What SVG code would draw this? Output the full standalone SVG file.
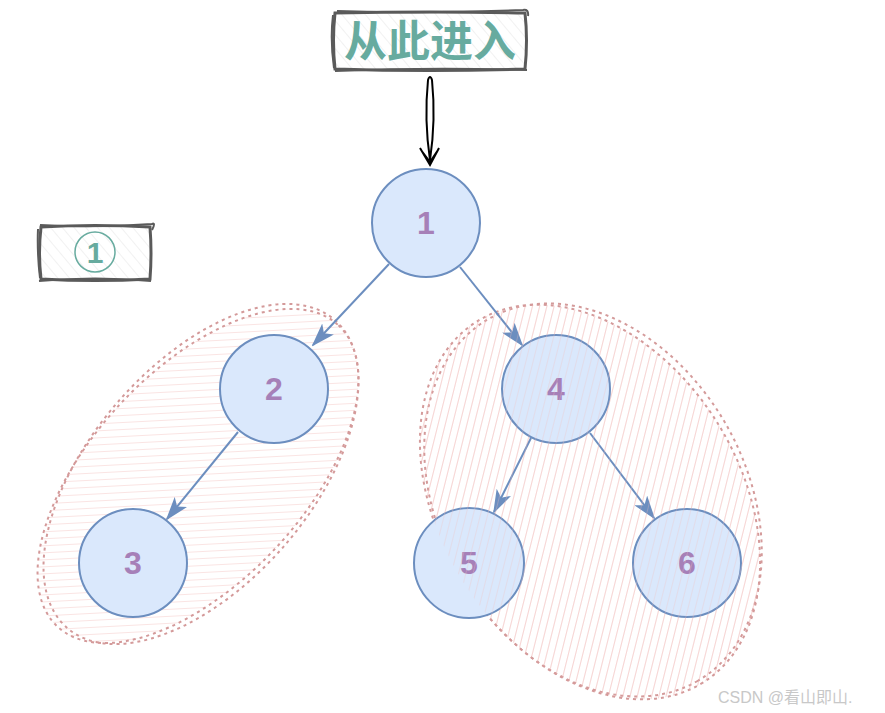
<svg xmlns="http://www.w3.org/2000/svg" width="885" height="713" viewBox="0 0 885 713">
<style>
.node circle{fill:#dae8fc;stroke:#6c8ebf;stroke-width:2}
.node text{font-family:"Liberation Sans",Arial,sans-serif;font-weight:bold;font-size:32px;fill:#a680b8;text-anchor:middle}
.edge{stroke:#6c8ebf;stroke-width:2;fill:none}
.dash{fill:none;stroke:#d49a9a;stroke-width:2;stroke-dasharray:3 4}
.box{fill:url(#greyHatch);stroke:#5a5a5a;stroke-width:3}
.lbl{font-family:"Liberation Sans","Noto Sans CJK SC",sans-serif;font-weight:bold;fill:#67ab9f;text-anchor:middle}
</style>
<defs>
<marker id="ah" viewBox="0 0 24 16" refX="22" refY="8" markerWidth="24" markerHeight="16" markerUnits="userSpaceOnUse" orient="auto">
<path d="M0,0 L24,8 L0,16 L6,8 Z" fill="#6c8ebf"/>
</marker>
<pattern id="greyHatch" width="9" height="9" patternUnits="userSpaceOnUse" patternTransform="rotate(-40)">
<rect width="9" height="9" fill="#fff"/>
<line x1="0" y1="0" x2="0" y2="9" stroke="#e4e4e4" stroke-width="1"/>
</pattern>
<pattern id="hatchL" width="7" height="7" patternUnits="userSpaceOnUse" patternTransform="rotate(44)">
<line x1="0" y1="0" x2="7" y2="0" stroke="#f5cac8" stroke-width="1"/>
</pattern>
<pattern id="hatchR" width="7" height="7" patternUnits="userSpaceOnUse" patternTransform="rotate(-44)">
<line x1="0" y1="0" x2="0" y2="7" stroke="#f3c2c0" stroke-width="1"/>
</pattern>
</defs>
<rect width="885" height="713" fill="#fff"/>

<g id="groupLeft">
<ellipse cx="198" cy="476" rx="206" ry="106" transform="rotate(-47 198 476)" fill="url(#hatchL)"/>
<ellipse cx="198" cy="476" rx="206" ry="106" transform="rotate(-47 198 476)" class="dash"/>
<ellipse cx="201" cy="474" rx="204" ry="110" transform="rotate(-49 201 474)" class="dash"/>
</g>
<g id="groupRight">
<ellipse cx="590" cy="502" rx="213" ry="150" transform="rotate(58 590 502)" fill="url(#hatchR)"/>
<ellipse cx="590" cy="502" rx="213" ry="150" transform="rotate(58 590 502)" class="dash"/>
<ellipse cx="593" cy="500" rx="209" ry="153" transform="rotate(60 593 500)" class="dash"/>
</g>

<g id="entry">
<path d="M335,13 Q430,11 525,13 Q528,40 525,69 Q430,72 335,69 Q332,40 335,13 Z" class="box"/>
<path d="M337,11 Q430,14 523,10 Q529,9 528,16 M335,71 Q430,67 527,70 M333,15 Q330,40 334,68" fill="none" stroke="#5a5a5a" stroke-width="2"/>
<text x="430" y="57" class="lbl" font-size="43">从此进入</text>
</g>

<g id="label1">
<path d="M41,227 Q95,224 150,227 Q152,253 150,279 Q95,282 41,279 Q38,253 41,227 Z" class="box"/>
<path d="M40,225 Q95,228 152,224 Q156,222 152,230 M39,281 Q95,276 151,281 M38,229 Q37,253 40,278" fill="none" stroke="#5a5a5a" stroke-width="2"/>
<circle cx="95" cy="252" r="20" fill="none" stroke="#67ab9f" stroke-width="1.5"/>
<text x="95" y="263" class="lbl" font-size="30">1</text>
</g>

<g id="connectors">
<path d="M428,80 Q424,120 430,160 Q436,120 432,80 Q430,74 428,80 Z" fill="none" stroke="#000" stroke-width="2"/>
<path d="M420,148 L430,165 L439,148 M421,150 L430,162 L438,150" fill="none" stroke="#000" stroke-width="2"/>
<line x1="389" y1="264" x2="313" y2="345" class="edge" marker-end="url(#ah)"/>
<line x1="460" y1="267" x2="522" y2="345" class="edge" marker-end="url(#ah)"/>
<line x1="238" y1="432" x2="167" y2="519" class="edge" marker-end="url(#ah)"/>
<line x1="531" y1="438" x2="494" y2="512" class="edge" marker-end="url(#ah)"/>
<line x1="590" y1="433" x2="654" y2="518" class="edge" marker-end="url(#ah)"/>
</g>

<g id="n1" class="node"><circle cx="426" cy="223" r="54"/><text x="426" y="234">1</text></g>
<g id="n2" class="node"><circle cx="274" cy="389" r="54"/><text x="274" y="400">2</text></g>
<g id="n3" class="node"><circle cx="133" cy="563" r="54"/><text x="133" y="574">3</text></g>
<g id="n4" class="node"><circle cx="556" cy="389" r="54"/><text x="556" y="400">4</text></g>
<g id="n5" class="node"><circle cx="469" cy="563" r="55"/><text x="469" y="574">5</text></g>
<g id="n6" class="node"><circle cx="687" cy="563" r="54"/><text x="687" y="574">6</text></g>

<g id="overlayRight" opacity="0.6">
<ellipse cx="590" cy="502" rx="213" ry="150" transform="rotate(58 590 502)" fill="url(#hatchR)"/>
</g>

<text x="718" y="703" font-family="'Liberation Sans','Noto Sans CJK SC',sans-serif" font-size="16" fill="#c8c8c8">CSDN @看山即山.</text>
</svg>
